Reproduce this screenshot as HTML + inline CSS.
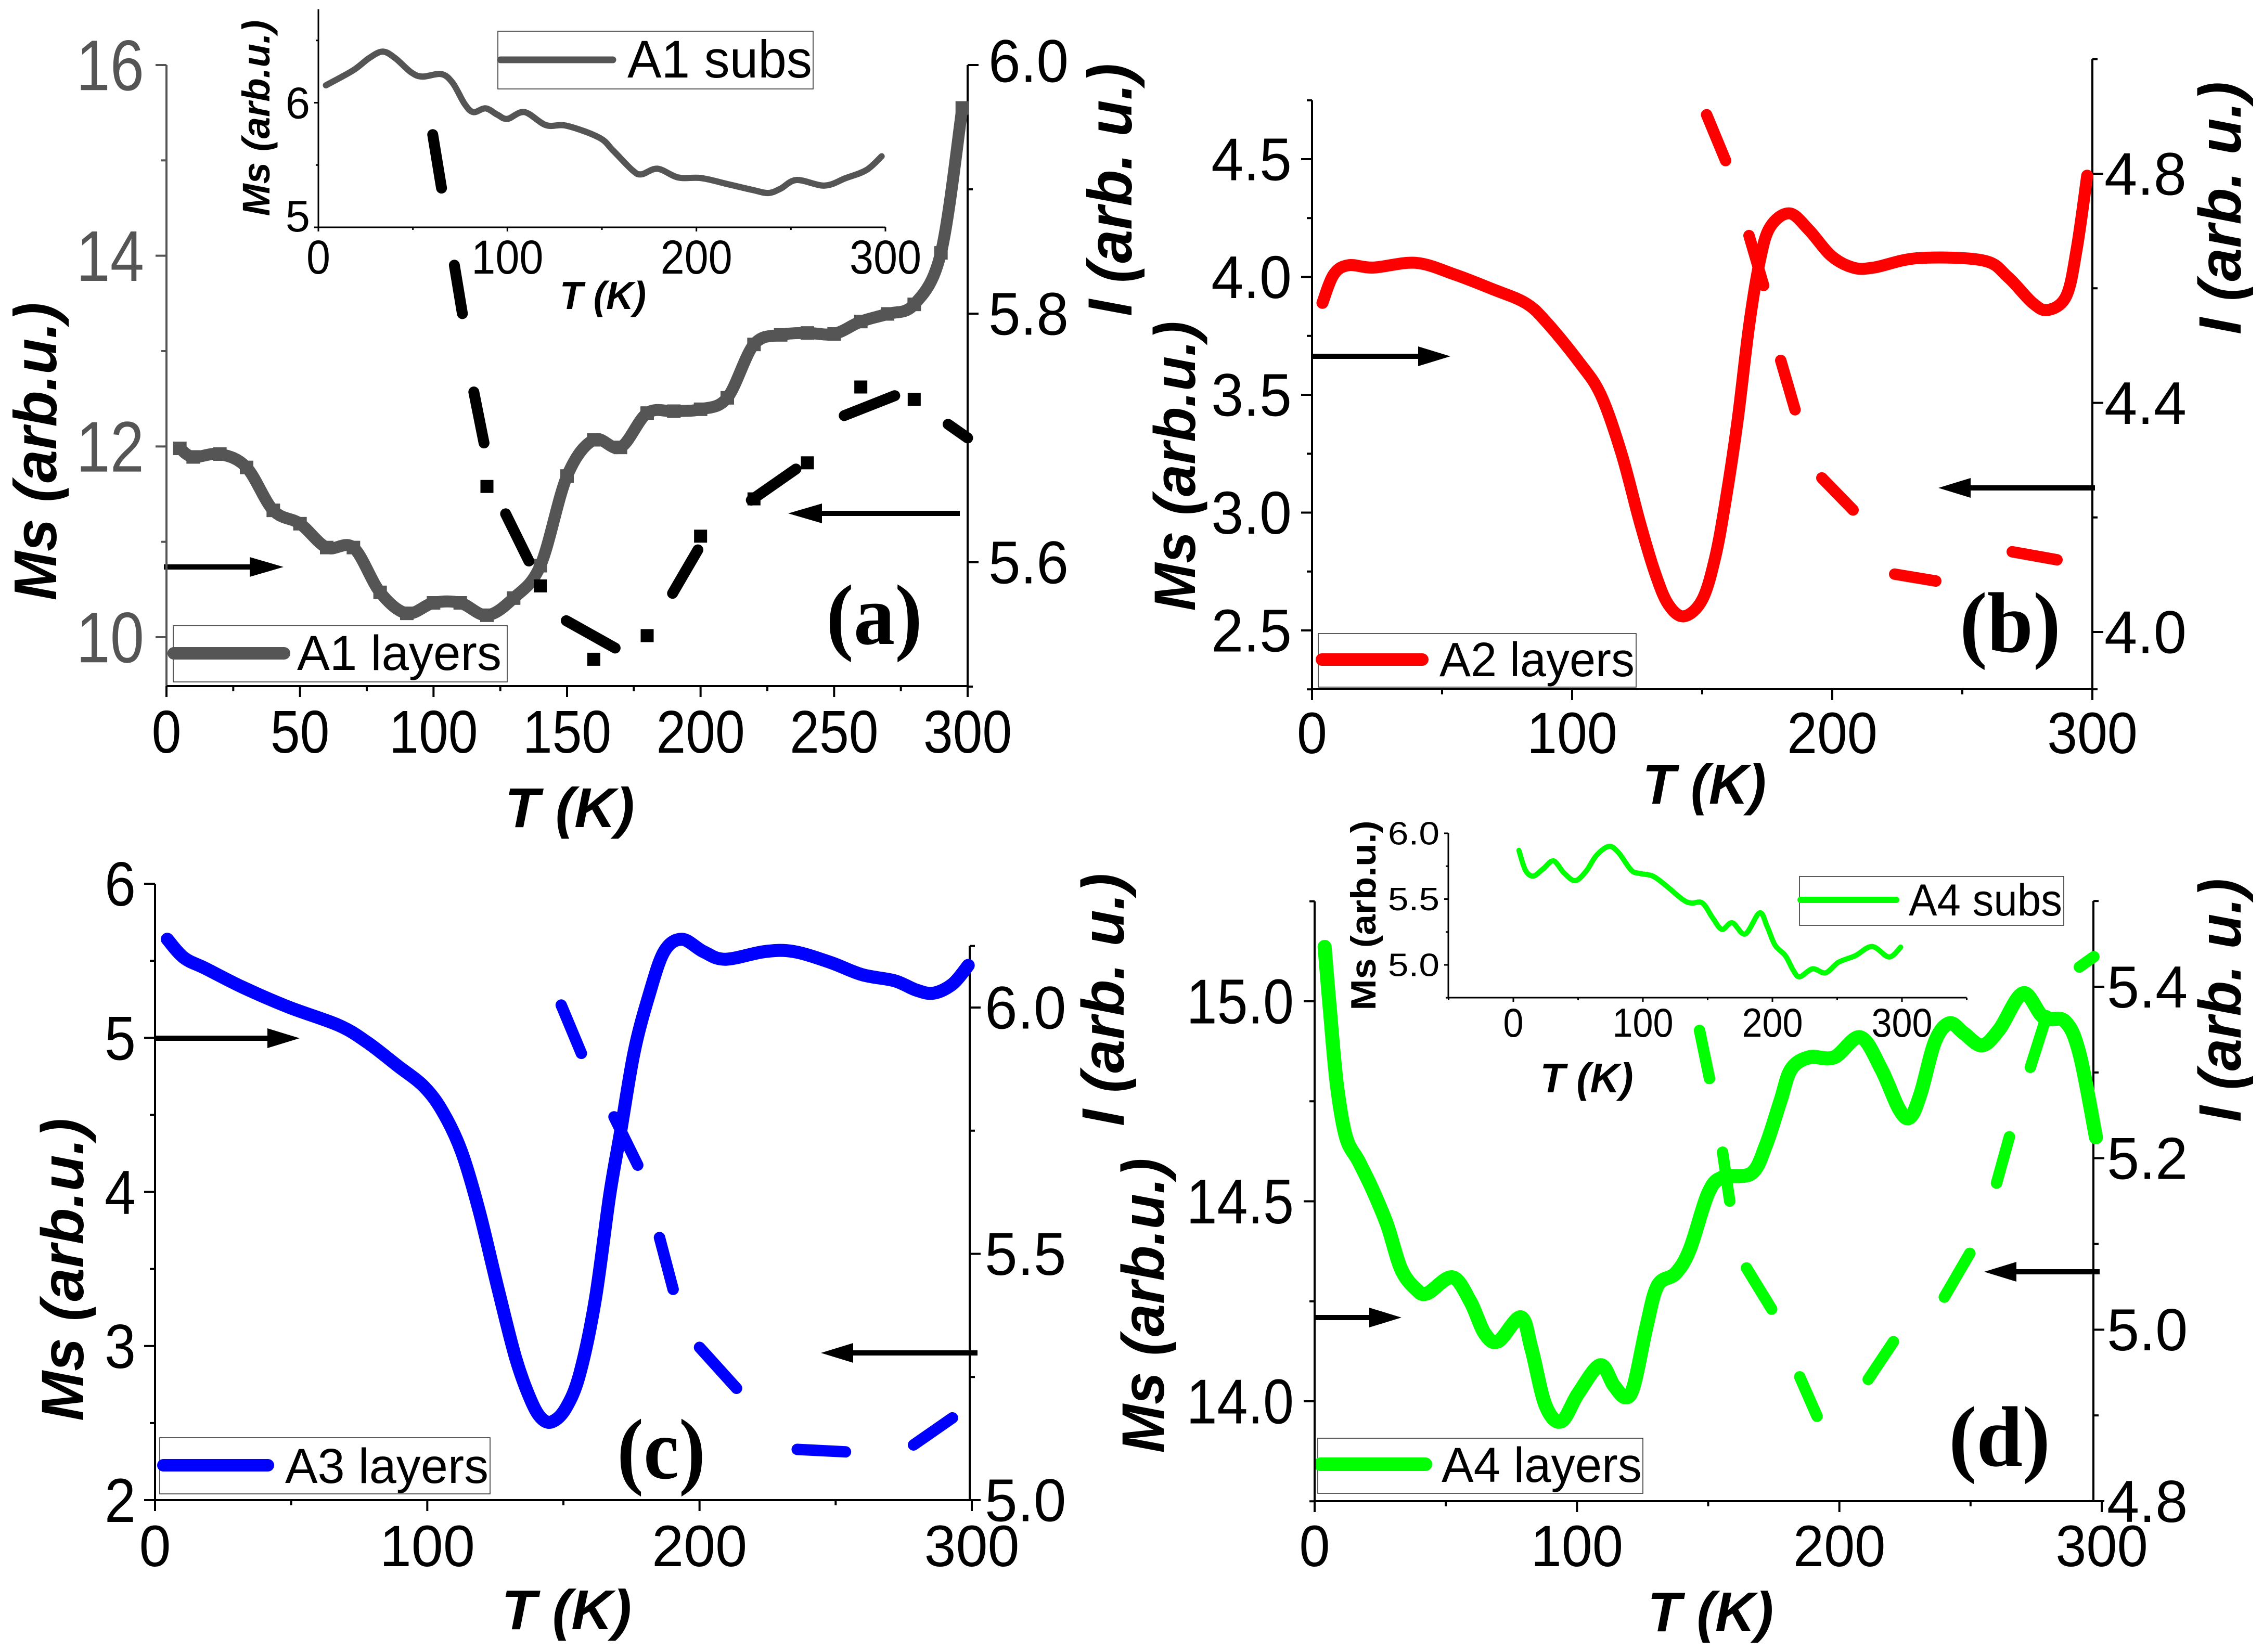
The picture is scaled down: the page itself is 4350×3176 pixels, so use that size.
<!DOCTYPE html>
<html lang="en">
<head>
<meta charset="utf-8">
<title>Ms and I versus temperature for samples A1 to A4</title>
<style>
html,body{margin:0;padding:0;background:#fff}
svg{display:block}
text{font-family:"Liberation Sans",sans-serif}
.title{font-weight:bold;font-style:italic}
.letter{font-family:"Liberation Serif",serif;font-weight:bold}
.box{fill:none;stroke:#333;stroke-width:1.6}
.arrow{fill:#000}
</style>
</head>
<body>
<svg id="fig" xmlns="http://www.w3.org/2000/svg" width="4350" height="3176" viewBox="0 0 4350 3176">
<rect x="0" y="0" width="4350" height="3176" fill="#fff"/>

<g id="panel-a">
  <text class="title" transform="translate(108,868) rotate(-90)" font-size="116" text-anchor="middle" textLength="573" lengthAdjust="spacingAndGlyphs">Ms (arb.u.)</text>
  <text class="title" transform="translate(2175,365) rotate(-90)" font-size="120" text-anchor="middle" textLength="486" lengthAdjust="spacingAndGlyphs">I (arb. u.)</text>
  <text class="title" x="1095" y="1590" font-size="108" text-anchor="middle" textLength="249" lengthAdjust="spacingAndGlyphs">T (K)</text>
  <rect class="box" x="333" y="1203" width="642" height="108"/>
  <line x1="334" y1="1256" x2="546" y2="1256" stroke="#555" stroke-width="24" stroke-linecap="round"/>
  <text x="571" y="1288" font-size="95" textLength="393" lengthAdjust="spacingAndGlyphs">A1 layers</text>
  <text class="letter" x="1588" y="1238" font-size="165" textLength="185" lengthAdjust="spacingAndGlyphs">(a)</text>
  <path class="arrow" d="M315 1085H480V1071L545 1090L480 1109V1095H315Z"/>
  <path class="arrow" d="M1845 982H1580V968L1515 987L1580 1006V992H1845Z"/>
</g>
<g id="inset-a">
  <text class="title" transform="translate(518,227) rotate(-90)" font-size="74" text-anchor="middle" textLength="377" lengthAdjust="spacingAndGlyphs">Ms (arb.u.)</text>
  <text class="title" x="1159" y="594" font-size="75" text-anchor="middle" textLength="166" lengthAdjust="spacingAndGlyphs">T (K)</text>
  <rect class="box" x="957" y="60" width="606" height="111"/>
  <line x1="962" y1="115" x2="1178" y2="115" stroke="#555" stroke-width="13" stroke-linecap="round"/>
  <text x="1206" y="149" font-size="102" textLength="355" lengthAdjust="spacingAndGlyphs">A1 subs</text>
</g>

<g id="panel-b">
  <text class="title" transform="translate(2297,896) rotate(-90)" font-size="112" text-anchor="middle" textLength="557" lengthAdjust="spacingAndGlyphs">Ms (arb.u.)</text>
  <text class="title" transform="translate(4307,400) rotate(-90)" font-size="115" text-anchor="middle" textLength="486" lengthAdjust="spacingAndGlyphs">I (arb. u.)</text>
  <text class="title" x="3276" y="1545" font-size="108" text-anchor="middle" textLength="238" lengthAdjust="spacingAndGlyphs">T (K)</text>
  <rect class="box" x="2534" y="1218" width="611" height="103"/>
  <line x1="2541" y1="1268" x2="2734" y2="1268" stroke="#f00" stroke-width="24" stroke-linecap="round"/>
  <text x="2767" y="1300" font-size="93" textLength="375" lengthAdjust="spacingAndGlyphs">A2 layers</text>
  <text class="letter" x="3767" y="1253" font-size="165" textLength="194" lengthAdjust="spacingAndGlyphs">(b)</text>
  <path class="arrow" d="M2522 680H2726V666L2788 685L2726 704V690H2522Z"/>
  <path class="arrow" d="M4027 933H3788V919L3726 938L3788 957V943H4027Z"/>
</g>

<g id="panel-c">
  <text class="title" transform="translate(160,2441) rotate(-90)" font-size="115" text-anchor="middle" textLength="582" lengthAdjust="spacingAndGlyphs">Ms (arb.u.)</text>
  <text class="title" transform="translate(2160,1922) rotate(-90)" font-size="115" text-anchor="middle" textLength="486" lengthAdjust="spacingAndGlyphs">I (arb. u.)</text>
  <text class="title" x="1089" y="3132" font-size="108" text-anchor="middle" textLength="250" lengthAdjust="spacingAndGlyphs">T (K)</text>
  <rect class="box" x="307" y="2764" width="635" height="108"/>
  <line x1="314" y1="2817" x2="515" y2="2817" stroke="#00f" stroke-width="24" stroke-linecap="round"/>
  <text x="548" y="2851" font-size="95" textLength="391" lengthAdjust="spacingAndGlyphs">A3 layers</text>
  <text class="letter" x="1186" y="2842" font-size="165" textLength="170" lengthAdjust="spacingAndGlyphs">(c)</text>
  <path class="arrow" d="M298 1991H514V1977L576 1996L514 2015V2001H298Z"/>
  <path class="arrow" d="M1879 2596H1640V2582L1578 2601L1640 2620V2606H1879Z"/>
</g>

<g id="panel-d">
  <text class="title" transform="translate(2237,2510) rotate(-90)" font-size="115" text-anchor="middle" textLength="567" lengthAdjust="spacingAndGlyphs">Ms (arb.u.)</text>
  <text class="title" transform="translate(4307,1923) rotate(-90)" font-size="115" text-anchor="middle" textLength="468" lengthAdjust="spacingAndGlyphs">I (arb. u.)</text>
  <text class="title" x="3288" y="3136" font-size="108" text-anchor="middle" textLength="242" lengthAdjust="spacingAndGlyphs">T (K)</text>
  <rect class="box" x="2533" y="2765" width="625" height="106"/>
  <line x1="2538" y1="2815" x2="2740" y2="2815" stroke="#0f0" stroke-width="26" stroke-linecap="round"/>
  <text x="2771" y="2849" font-size="95" textLength="385" lengthAdjust="spacingAndGlyphs">A4 layers</text>
  <text class="letter" x="3746" y="2818" font-size="165" textLength="195" lengthAdjust="spacingAndGlyphs">(d)</text>
  <path class="arrow" d="M2527 2528H2632V2514L2694 2533L2632 2552V2538H2527Z"/>
  <path class="arrow" d="M4036 2440H3876V2426L3814 2445L3876 2464V2450H4036Z"/>
</g>
<g id="inset-d">
  <text font-weight="bold" transform="translate(2644,1760) rotate(-90)" font-size="68" text-anchor="middle" textLength="365" lengthAdjust="spacingAndGlyphs">Ms (arb.u.)</text>
  <text class="title" x="3050" y="2100" font-size="80" text-anchor="middle" textLength="179" lengthAdjust="spacingAndGlyphs">T (K)</text>
  <rect class="box" x="3459" y="1685" width="508" height="94"/>
  <line x1="3461" y1="1730" x2="3645" y2="1730" stroke="#0f0" stroke-width="12" stroke-linecap="round"/>
  <text x="3669" y="1760" font-size="86" textLength="295" lengthAdjust="spacingAndGlyphs">A4 subs</text>
</g>
</svg>

<script>
// ---------- Panel (a) data ----------
const a1LayerT = [5,10,20,30,40,50,60,70,80,90,100,110,120,130,140,150,160,170,180,190,200,210,220,230,240,250,260,270,280,290,298];
const a1LayerMs = [11.98,11.89,11.92,11.78,11.33,11.19,10.94,10.94,10.47,10.25,10.36,10.36,10.23,10.41,10.75,11.69,12.07,11.99,12.35,12.37,12.39,12.51,13.07,13.17,13.19,13.18,13.31,13.39,13.49,14.03,15.55];
const a1DashT = [99.7,103,null,107.8,110.8,null,115.1,118.9,null,127,135.7,null,149.7,168,null,189.5,199,null,219,235.7,null,253.8,272.7,null,292.7,300];
const a1DashI = [5.944,5.901,null,5.839,5.8,null,5.737,5.696,null,5.639,5.601,null,5.553,5.531,null,5.575,5.61,null,5.65,5.675,null,5.718,5.734,null,5.711,5.7];
const a1MarkT = [120,140,160,180,200,220,240,260,280];
const a1MarkI = [5.661,5.581,5.522,5.541,5.621,5.651,5.68,5.741,5.731];
const a1SubsT = [4,18.4,27,34,40.5,49,55,65,71,77.4,82,88.5,94.6,100,109,120.4,131.4,148.6,156,166,170.8,179.4,190.4,202.7,217,229.7,238,244.5,253,267.8,279,290,298];
const a1SubsMs = [6.14,6.26,6.36,6.41,6.36,6.245,6.21,6.23,6.16,5.99,5.925,5.955,5.905,5.87,5.925,5.82,5.815,5.72,5.615,5.46,5.425,5.47,5.40,5.395,5.345,5.30,5.275,5.31,5.38,5.335,5.395,5.46,5.57];
// ---------- Panel (b) data ----------
const a2LayerT = [4,8.3,14,23.6,40,55,69,82,90,102.6,111,119,126,132,137,143,150,155,159,163.6,168,172,176,183.5,191,199.6,208,216,233,258,267.5,277,283,290,294,298];
const a2LayerMs = [3.89,4.01,4.05,4.04,4.06,4.01,3.95,3.89,3.81,3.64,3.50,3.25,2.96,2.74,2.61,2.56,2.63,2.81,3.05,3.39,3.79,4.06,4.21,4.27,4.20,4.09,4.04,4.04,4.08,4.07,4.00,3.89,3.86,3.92,4.12,4.43];
const a2DashT = [151.7,159,null,168,173.6,null,180.2,185.7,null,196,208,null,224,239.8,null,269.2,286.4];
const a2DashI = [4.903,4.823,null,4.692,4.605,null,4.474,4.388,null,4.269,4.213,null,4.101,4.089,null,4.14,4.126];
// ---------- Panel (c) data ----------
const a3LayerT = [4.5,10.6,18.6,32,49,67.6,78,89,99,106,112.6,119,126,132.5,138,142,146,151,156,161.7,167,171,176,181.5,187,193.5,201.4,209.4,224,234.6,248,259.7,271.7,279.6,286,293,298.7];
const a3LayerMs = [5.64,5.52,5.45,5.33,5.20,5.08,4.97,4.82,4.68,4.51,4.26,3.88,3.37,2.92,2.65,2.53,2.51,2.60,2.82,3.30,3.98,4.39,4.91,5.28,5.56,5.64,5.56,5.51,5.56,5.56,5.49,5.41,5.37,5.31,5.29,5.35,5.47];
const a3DashT = [149.2,156.6,null,168.6,177.3,null,185.3,190.3,null,200,213.6,null,235.9,253.6,null,278.6,292.9];
const a3DashI = [6.005,5.907,null,5.778,5.68,null,5.533,5.428,null,5.31,5.227,null,5.103,5.098,null,5.112,5.167];
// ---------- Panel (d) data ----------
const a4LayerT = [3.8,5.8,8.5,12,16.8,22,27.7,33,38.7,42.9,52.5,59.3,64.8,70,78.6,82.7,88,94,100.5,108.8,114,118.4,121.7,126.6,130.8,137.6,143,150,155.5,166.5,172,177.5,181.6,188.5,198,208,216,222.8,227,231,236.5,242,247.5,254.4,261,270,277.8,286,291.5,297.8];
const a4LayerMs = [15.136,14.98,14.79,14.66,14.60,14.53,14.44,14.33,14.28,14.27,14.31,14.25,14.17,14.15,14.21,14.13,13.99,13.95,14.02,14.09,14.04,14.01,14.04,14.19,14.29,14.32,14.38,14.52,14.56,14.57,14.64,14.75,14.83,14.86,14.86,14.91,14.83,14.73,14.71,14.77,14.90,14.945,14.92,14.89,14.93,15.02,14.96,14.95,14.87,14.66];
const a4DashT = [146.7,150.5,null,155.5,158.2,null,164.6,174.2,null,184.9,191.5,null,211,220.6,null,240,249.7,null,259.9,264.8,null,272.8,279,null,291.5,297];
const a4DashI = [5.349,5.293,null,5.207,5.15,null,5.072,5.024,null,4.945,4.899,null,4.942,4.986,null,5.038,5.089,null,5.171,5.225,null,5.306,5.366,null,5.423,5.435];
const a4SubsT = [4.3,9.3,15.3,23,31,39,47.6,56,64,73.6,81,91,97.6,107.6,117.5,131,137.5,146,154,161,169,179,190,196,202,210,216,221,231,241,251,264,277,290,299];
const a4SubsMs = [5.87,5.72,5.675,5.73,5.79,5.70,5.64,5.71,5.83,5.90,5.855,5.72,5.695,5.675,5.605,5.495,5.47,5.47,5.355,5.27,5.32,5.235,5.395,5.29,5.15,5.07,4.96,4.91,4.97,4.94,5.02,5.07,5.14,5.06,5.135];
// ---------- Tick values ----------
const panelATempMajor = [0,50,100,150,200,250,300];
const panelATempMinor = [25,75,125,175,225,275];
const panelAMsMajor = [10,12,14,16];
const panelAMsMinor = [11,13,15];
const panelAIMajor = [5.6,5.8,6.0];
const panelAIMinor = [5.5,5.7,5.9];
const tempMajor = [0,100,200,300];
const tempMinor = [50,150,250];
const panelBMsMajor = [2.5,3.0,3.5,4.0,4.5];
const panelBMsMinor = [2.25,2.75,3.25,3.75,4.25,4.75];
const panelBIMajor = [4.0,4.4,4.8];
const panelBIMinor = [3.9,4.2,4.6,5.0];
const panelCMsMajor = [2,3,4,5,6];
const panelCMsMinor = [2.5,3.5,4.5,5.5];
const panelCIMajor = [5.0,5.5,6.0];
const panelCIMinor = [5.25,5.75,6.125];
const panelDMsMajor = [14.0,14.5,15.0];
const panelDMsMinor = [13.75,14.25,14.75,15.25];
const panelDIMajor = [4.8,5.0,5.2,5.4];
const panelDIMinor = [4.9,5.1,5.3,5.5];
const insetAMsMajor = [5,6];
const insetAMsMinor = [5.5,6.5];
const insetDTempMinor = [-50,50,150,250,350];
const insetDMsMajor = [5.0,5.5,6.0];
const insetDMsMinor = [4.75,5.25,5.75];

// ---------- Helpers ----------
const NS = 'http://www.w3.org/2000/svg';
function mk(parent, tag, name, attrs) {
  const node = document.createElementNS(NS, tag);
  
  
  for (const k in attrs) node.setAttribute(k, attrs[k]);
  parent.appendChild(node);
  return node;
}
function scale(d0, p0, d1, p1) {
  return v => p0 + (v - d0) * (p1 - p0) / (d1 - d0);
}
function emWidth(s) {
  let w = 0;
  for (const c of s) w += (c === '.') ? 0.278 : (c === '-' ? 0.333 : 0.556);
  return w;
}
function drawAxis(g, o) {
  const col = o.color || '#000';
  const sw = o.width || 4;
  const major = o.major, minor = o.minor;
  const dom = o.extent.map(o.scale);
  const horiz = o.side === 'bottom';
  mk(g, 'line', o.name + '-line', horiz
    ? {x1: dom[0], x2: dom[1], y1: o.pos, y2: o.pos, stroke: col, 'stroke-width': sw}
    : {x1: o.pos, x2: o.pos, y1: dom[0], y2: dom[1], stroke: col, 'stroke-width': sw});
  const dir = o.side === 'left' ? -1 : 1;
  const tick = (v, len, nm) => {
    const p = o.scale(v);
    mk(g, 'line', nm, horiz
      ? {x1: p, x2: p, y1: o.pos, y2: o.pos + len, stroke: col, 'stroke-width': sw}
      : {x1: o.pos, x2: o.pos + dir * len, y1: p, y2: p, stroke: col, 'stroke-width': sw});
  };
  minor.forEach(v => tick(v, o.minorLen || 10, o.name + '-minor-tick'));
  major.forEach(v => {
    tick(v, o.majorLen || 21, o.name + '-major-tick');
    const s = v.toFixed(o.dec || 0);
    const attrs = {'font-size': o.fs, fill: o.labelColor || '#000',
      textLength: (emWidth(s) * o.fs * o.sx).toFixed(1), lengthAdjust: 'spacingAndGlyphs'};
    const p = o.scale(v);
    if (horiz) { attrs.x = p; attrs.y = o.labelPos; attrs['text-anchor'] = 'middle'; }
    else {
      attrs.x = o.labelPos;
      attrs.y = p + 0.35 * o.fs + ((o.labelShift && o.labelShift[s]) || 0);
      attrs['text-anchor'] = o.side === 'left' ? 'end' : 'start';
    }
    const t = mk(g, 'text', o.name + '-label', attrs);
    t.textContent = s;
  });
}
function smoothPath(xs, ys) {
  const pts = xs.map((x, i) => [x, ys[i]]);
  let d = 'M' + pts[0][0].toFixed(1) + ' ' + pts[0][1].toFixed(1);
  for (let i = 0; i < pts.length - 1; i++) {
    const p0 = pts[Math.max(i - 1, 0)], p1 = pts[i], p2 = pts[i + 1], p3 = pts[Math.min(i + 2, pts.length - 1)];
    const c1x = p1[0] + (p2[0] - p0[0]) / 6, c1y = p1[1] + (p2[1] - p0[1]) / 6;
    const c2x = p2[0] - (p3[0] - p1[0]) / 6, c2y = p2[1] - (p3[1] - p1[1]) / 6;
    d += 'C' + c1x.toFixed(1) + ' ' + c1y.toFixed(1) + ' ' + c2x.toFixed(1) + ' ' + c2y.toFixed(1) + ' ' + p2[0].toFixed(1) + ' ' + p2[1].toFixed(1);
  }
  return d;
}
function drawCurve(g, name, ts, vs, xf, yf, color, sw) {
  mk(g, 'path', name, {d: smoothPath(ts.map(xf), vs.map(yf)), fill: 'none', stroke: color,
    'stroke-width': sw, 'stroke-linecap': 'round', 'stroke-linejoin': 'round'});
}
function drawDashes(g, name, ts, vs, xf, yf, color, sw) {
  let cur = [];
  const flush = () => {
    if (cur.length > 1) {
      mk(g, 'polyline', name, {points: cur.map(i => xf(ts[i]).toFixed(1) + ',' + yf(vs[i]).toFixed(1)).join(' '),
        fill: 'none', stroke: color, 'stroke-width': sw, 'stroke-linecap': 'round'});
    }
    cur = [];
  };
  ts.forEach((t, i) => { if (t === null) flush(); else cur.push(i); });
  flush();
}
function drawSquares(g, name, ts, vs, xf, yf, color, size) {
  ts.forEach((t, i) => {
    mk(g, 'rect', name, {x: xf(t) - size / 2, y: yf(vs[i]) - size / 2, width: size, height: size, fill: color});
  });
}
const byId = id => document.getElementById(id);

// ---------- Panel (a) ----------
const ga = byId('panel-a');
const xA = scale(0, 320, 300, 1860);
const yAMs = scale(10, 1225, 16, 125);
const yAI = scale(5.6, 1081, 6.0, 125);
drawAxis(ga, {name:'panel-a-ms-axis', side:'left', scale:yAMs, extent:[9.49,16], pos:320, major:panelAMsMajor, minor:panelAMsMinor, fs:138, sx:.85, labelPos:277, color:'#555', labelColor:'#555'});
drawAxis(ga, {name:'panel-a-i-axis', side:'right', scale:yAI, extent:[5.5,6.0], pos:1860, major:panelAIMajor, minor:panelAIMinor, fs:116, sx:.955, dec:1, labelPos:1900, labelShift:{'6.0':-8}});
drawAxis(ga, {name:'panel-a-t-axis', side:'bottom', scale:xA, extent:[0,300], pos:1319, major:panelATempMajor, minor:panelATempMinor, fs:116, sx:.88, labelPos:1447});
drawCurve(ga, 'a1-layers-curve', a1LayerT, a1LayerMs, xA, yAMs, '#555', 23);
drawSquares(ga, 'a1-layers-point', a1LayerT, a1LayerMs, xA, yAMs, '#555', 26);
drawDashes(ga, 'a1-i-dash', a1DashT, a1DashI, xA, yAI, '#000', 21);
drawSquares(ga, 'a1-i-point', a1MarkT, a1MarkI, xA, yAI, '#000', 25);

// ---------- Inset (a) ----------
const gia = byId('inset-a');
const xIA = scale(0, 612, 300, 1702);
const yIA = scale(5, 437, 6, 197.5);
drawAxis(gia, {name:'inset-a-ms-axis', side:'left', scale:yIA, extent:[5,6.75], pos:612, major:insetAMsMajor, minor:insetAMsMinor, fs:85, sx:1, labelPos:596, width:3, majorLen:8, minorLen:5, labelShift:{'5':-22}});
drawAxis(gia, {name:'inset-a-t-axis', side:'bottom', scale:xIA, extent:[0,300], pos:437, major:tempMajor, minor:tempMinor, fs:92, sx:.9, labelPos:526, width:3, majorLen:8, minorLen:5});
drawCurve(gia, 'a1-subs-curve', a1SubsT, a1SubsMs, xIA, yIA, '#555', 12);

// ---------- Panel (b) ----------
const gb = byId('panel-b');
const xB = scale(0, 2522, 300, 4022);
const yBMs = scale(2.5, 1212, 4.5, 306);
const yBI = scale(4.0, 1215, 4.8, 334);
drawAxis(gb, {name:'panel-b-ms-axis', side:'left', scale:yBMs, extent:[2.25,4.75], pos:2522, major:panelBMsMajor, minor:panelBMsMinor, fs:116, sx:.96, dec:1, labelPos:2483});
drawAxis(gb, {name:'panel-b-i-axis', side:'right', scale:yBI, extent:[3.9,5.0], pos:4022, major:panelBIMajor, minor:panelBIMinor, fs:116, sx:.98, dec:1, labelPos:4045});
drawAxis(gb, {name:'panel-b-t-axis', side:'bottom', scale:xB, extent:[0,300], pos:1325, major:tempMajor, minor:tempMinor, fs:112, sx:.93, labelPos:1448});
drawCurve(gb, 'a2-layers-curve', a2LayerT, a2LayerMs, xB, yBMs, '#f00', 23);
drawDashes(gb, 'a2-i-dash', a2DashT, a2DashI, xB, yBI, '#f00', 22);

// ---------- Panel (c) ----------
const gc = byId('panel-c');
const xC = scale(0, 298, 300, 1868);
const yCMs = scale(2, 2884, 6, 1699);
const yCI = scale(5.0, 2884, 6.0, 1937);
drawAxis(gc, {name:'panel-c-ms-axis', side:'left', scale:yCMs, extent:[2,6], pos:298, major:panelCMsMajor, minor:panelCMsMinor, fs:120, sx:.9, labelPos:261});
drawAxis(gc, {name:'panel-c-i-axis', side:'right', scale:yCI, extent:[5.0,6.125], pos:1864, major:panelCIMajor, minor:panelCIMinor, fs:116, sx:.97, dec:1, labelPos:1893});
drawAxis(gc, {name:'panel-c-t-axis', side:'bottom', scale:xC, extent:[0,300], pos:2884, major:tempMajor, minor:tempMinor, fs:112, sx:.98, labelPos:3011});
drawCurve(gc, 'a3-layers-curve', a3LayerT, a3LayerMs, xC, yCMs, '#00f', 25);
drawDashes(gc, 'a3-i-dash', a3DashT, a3DashI, xC, yCI, '#00f', 22);

// ---------- Panel (d) ----------
const gd = byId('panel-d');
const xD = scale(0, 2527, 300, 4040);
const yDMs = scale(14, 2694, 15, 1925);
const yDI = scale(4.8, 2886, 5.4, 1897);
drawAxis(gd, {name:'panel-d-ms-axis', side:'left', scale:yDMs, extent:[13.75,15.25], pos:2527, major:panelDMsMajor, minor:panelDMsMinor, fs:122, sx:.87, dec:1, labelPos:2487});
drawAxis(gd, {name:'panel-d-i-axis', side:'right', scale:yDI, extent:[4.8,5.5], pos:4024, major:panelDIMajor, minor:panelDIMinor, fs:114, sx:.98, dec:1, labelPos:4050});
drawAxis(gd, {name:'panel-d-t-axis', side:'bottom', scale:xD, extent:[0,300], pos:2886, major:tempMajor, minor:tempMinor, fs:112, sx:.95, labelPos:3011});
drawCurve(gd, 'a4-layers-curve', a4LayerT, a4LayerMs, xD, yDMs, '#0f0', 27);
drawDashes(gd, 'a4-i-dash', a4DashT, a4DashI, xD, yDI, '#0f0', 22);

// ---------- Inset (d) ----------
const gid = byId('inset-d');
const xID = scale(0, 2909, 300, 3656);
const yID = scale(5, 1855, 6, 1602);
drawAxis(gid, {name:'inset-d-ms-axis', side:'left', scale:yID, extent:[4.75,6.0], pos:2784, major:insetDMsMajor, minor:insetDMsMinor, fs:62, sx:1.15, dec:1, labelPos:2767, width:3, majorLen:8, minorLen:5});
drawAxis(gid, {name:'inset-d-t-axis', side:'bottom', scale:xID, extent:[-50,350], pos:1918, major:tempMajor, minor:insetDTempMinor, fs:78, sx:.9, labelPos:1993, width:3, majorLen:8, minorLen:5});
drawCurve(gid, 'a4-subs-curve', a4SubsT, a4SubsMs, xID, yID, '#0f0', 10);
</script>
</body>
</html>
